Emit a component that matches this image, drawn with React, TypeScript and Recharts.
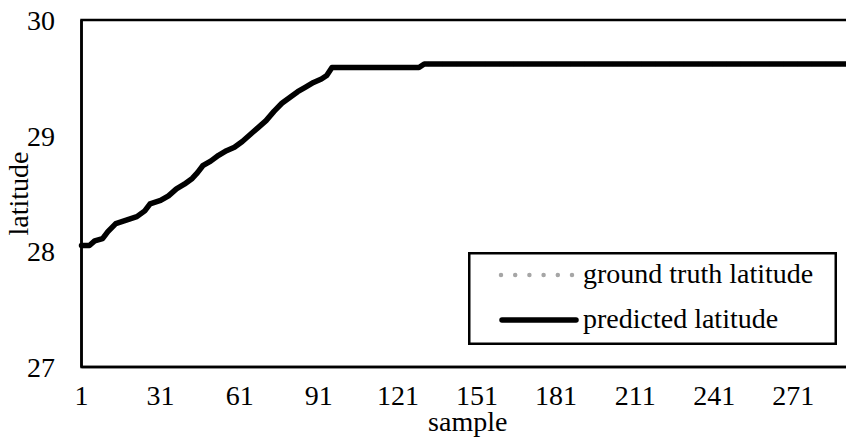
import React from 'react';
import { LineChart, Line, XAxis, YAxis, Legend, Label, ReferenceArea } from 'recharts';

// sample index (x) at which a value was read
const samples = [1, 4, 6, 9, 11, 14, 18, 22, 25, 27, 31, 34, 37, 40, 43, 45, 47, 50, 53, 56, 59, 62, 65, 68, 71, 74, 77, 80, 83, 86, 89, 92, 94, 96, 129, 131, 294];
const predictedLatitude = [28.05, 28.05, 28.09, 28.11, 28.17, 28.24, 28.27, 28.30, 28.35, 28.41, 28.44, 28.48, 28.54, 28.58, 28.63, 28.68, 28.74, 28.78, 28.83, 28.87, 28.90, 28.95, 29.01, 29.07, 29.13, 29.21, 29.28, 29.33, 29.38, 29.42, 29.46, 29.49, 29.52, 29.59, 29.59, 29.62, 29.62];
const groundTruthLatitude = [28.05, 28.05, 28.09, 28.11, 28.17, 28.24, 28.27, 28.30, 28.35, 28.41, 28.44, 28.48, 28.54, 28.58, 28.63, 28.68, 28.74, 28.78, 28.83, 28.87, 28.90, 28.95, 29.01, 29.07, 29.13, 29.21, 29.28, 29.33, 29.38, 29.42, 29.46, 29.49, 29.52, 29.59, 29.59, 29.62, 29.62];
const xTicks = [1, 31, 61, 91, 121, 151, 181, 211, 241, 271];
const yTicks = [27, 28, 29, 30];
const seriesNames = ['ground truth latitude', 'predicted latitude'];
const xTitle = 'sample';
const yTitle = 'latitude';

const data = samples.map((s, i) => ({
  sample: s,
  groundTruth: groundTruthLatitude[i],
  predicted: predictedLatitude[i],
}));

const FONT = "'Liberation Serif', 'Times New Roman', serif";
const FS = 28;

const renderLegend = () => (
  <svg width={369} height={93} style={{ display: 'block' }}>
    <rect x={1.25} y={1.25} width={366.5} height={90.5} fill="#fff" stroke="#000" strokeWidth={2.5} />
    <line x1={33} y1={23} x2={104} y2={23} stroke="#a6a6a6" strokeWidth={4.5} strokeDasharray="0 14.2" strokeLinecap="round" />
    <text x={115} y={31} fontFamily={FONT} fontSize={FS} fill="#000">{seriesNames[0]}</text>
    <line x1={34} y1={68} x2={108} y2={68} stroke="#000" strokeWidth={5.5} strokeLinecap="round" />
    <text x={115} y={76} fontFamily={FONT} fontSize={FS} fill="#000">{seriesNames[1]}</text>
  </svg>
);

export default function App() {
  return (
    <div style={{ position: 'absolute', left: 0, top: 0, width: 846, height: 441, overflow: 'hidden', background: '#fff' }}>
      <LineChart
        width={854}
        height={441}
        data={data}
        margin={{ top: 20, right: 0, bottom: 0, left: 0 }}
        style={{ fontFamily: FONT }}
      >
        <ReferenceArea x1={1} x2={294} y1={27} y2={30} fill="none" fillOpacity={0} stroke="#000" strokeWidth={2.5} />
        <XAxis
          dataKey="sample"
          type="number"
          domain={[1, 294]}
          ticks={xTicks}
          interval={0}
          height={74}
          tickSize={0}
          tickLine={false}
          tickMargin={18}
          axisLine={{ stroke: '#000', strokeWidth: 2.5 }}
          tick={{ fontSize: FS, fill: '#000', fontFamily: FONT }}
        >
          <Label
            content={(props: any) => {
              const vb = props.viewBox || { x: 81.5, y: 367, width: 772.5, height: 74 };
              return (
                <text x={vb.x + vb.width / 2} y={vb.y + 64} textAnchor="middle" fontFamily={FONT} fontSize={FS} fill="#000">
                  {xTitle}
                </text>
              );
            }}
          />
        </XAxis>
        <YAxis
          type="number"
          domain={[27, 30]}
          ticks={yTicks}
          width={81.5}
          tickSize={0}
          tickLine={false}
          tickMargin={26.5}
          axisLine={{ stroke: '#000', strokeWidth: 2.5 }}
          tick={{ fontSize: FS, fill: '#000', fontFamily: FONT }}
        >
          <Label
            content={(props: any) => {
              const vb = props.viewBox || { x: 0, y: 20, width: 81.5, height: 347 };
              const cx = 28;
              const cy = vb.y + vb.height / 2;
              return (
                <text x={cx} y={cy} transform={`rotate(-90 ${cx} ${cy})`} textAnchor="middle" fontFamily={FONT} fontSize={FS} fill="#000">
                  {yTitle}
                </text>
              );
            }}
          />
        </YAxis>
        <Legend
          layout="vertical"
          align="center"
          verticalAlign="middle"
          content={renderLegend}
          wrapperStyle={{ left: 468, top: 252, width: 369, height: 93 }}
        />
        <Line
          type="linear"
          dataKey="groundTruth"
          name={seriesNames[0]}
          stroke="#a6a6a6"
          strokeWidth={4.5}
          strokeDasharray="0 14.2"
          strokeLinecap="round"
          dot={false}
          activeDot={false}
          isAnimationActive={false}
        />
        <Line
          type="linear"
          dataKey="predicted"
          name={seriesNames[1]}
          stroke="#000"
          strokeWidth={5.5}
          strokeLinejoin="round"
          strokeLinecap="round"
          dot={false}
          activeDot={false}
          isAnimationActive={false}
        />
      </LineChart>
    </div>
  );
}
